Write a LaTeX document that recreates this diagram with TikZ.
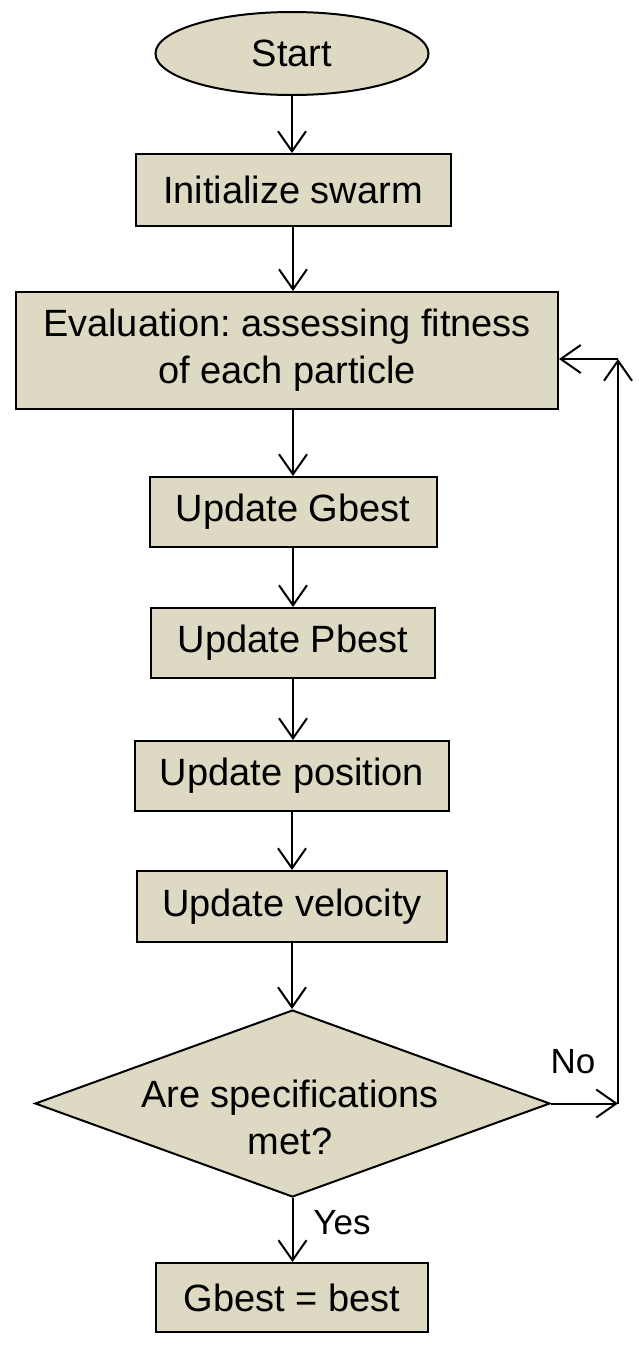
\documentclass[tikz,border=0pt]{standalone}
\usepackage{fontspec}
\setmainfont{Liberation Sans}
\usetikzlibrary{shapes.geometric,arrows.meta}
\definecolor{tan}{HTML}{DDD9C3}
\frenchspacing
\tikzset{
  base/.style={draw=black, line width=2pt, fill=tan, inner sep=0pt, font=\fontsize{38}{47}\selectfont, align=center},
  procbox/.style={base, rectangle},
  termbox/.style={base, ellipse},
  decbox/.style={base, diamond},
  conn/.style={line width=2pt, -{Straight Barb[length=20pt,width=28pt,line width=2pt]}},
  lbl/.style={font=\fontsize{35}{42}\selectfont, inner sep=0pt},
  dectext/.style={font=\fontsize{38}{47}\selectfont, align=center, inner sep=0pt}
}
\begin{document}
\begin{tikzpicture}[x=1pt,y=-1pt]
\useasboundingbox (0,0) rectangle (639,1347);
\node[termbox, minimum width=273pt, minimum height=83pt] (start) at (292,53.5) {Start};
\node[procbox, minimum width=315pt, minimum height=72pt] (init) at (293,190) {Initialize swarm};
\node[procbox, minimum width=542pt, minimum height=117pt] (eval) at (287,350.5) {Evaluation: assessing fitness\\of each particle};
\node[procbox, minimum width=287pt, minimum height=70pt] (gbest) at (293,512) {Update Gbest};
\node[procbox, minimum width=284pt, minimum height=70pt] (pbest) at (293,643) {Update Pbest};
\node[procbox, minimum width=314pt, minimum height=70pt] (pos) at (292,776) {Update position};
\node[procbox, minimum width=310pt, minimum height=71pt] (vel) at (292,906.5) {Update velocity};
\node[decbox, minimum width=515pt, minimum height=187pt] (dec) at (292.5,1103.5) {};
\node[dectext] (dectxt) at (290,1117) {Are specifications\\met?};
\node[procbox, minimum width=272pt, minimum height=69pt] (best) at (292,1297.5) {Gbest = best};
\coordinate (nx) at (618,1103.5);
\coordinate (ny) at (618,359);
\draw[conn] (start.south) -- (start.south |- init.north);
\draw[conn] (init.south) -- (init.south |- eval.north);
\draw[conn] (init.south |- eval.south) -- (init.south |- gbest.north);
\draw[conn] (gbest.south) -- (gbest.south |- pbest.north);
\draw[conn] (pbest.south) -- (pbest.south |- pos.north);
\draw[conn] (pos.south) -- (pos.south |- vel.north);
\draw[conn] (vel.south) -- (vel.south |- dec.north);
\draw[conn] (dec.south) -- (dec.south |- best.north);
\draw[conn] (dec.east) -- (nx);
\draw[conn] (nx) -- (ny);
\draw[conn] (ny) -- (eval.east |- ny);
\node[lbl] (yes) at (342,1223) {Yes};
\node[lbl] (no) at (573,1062) {No};
\end{tikzpicture}
\end{document}
